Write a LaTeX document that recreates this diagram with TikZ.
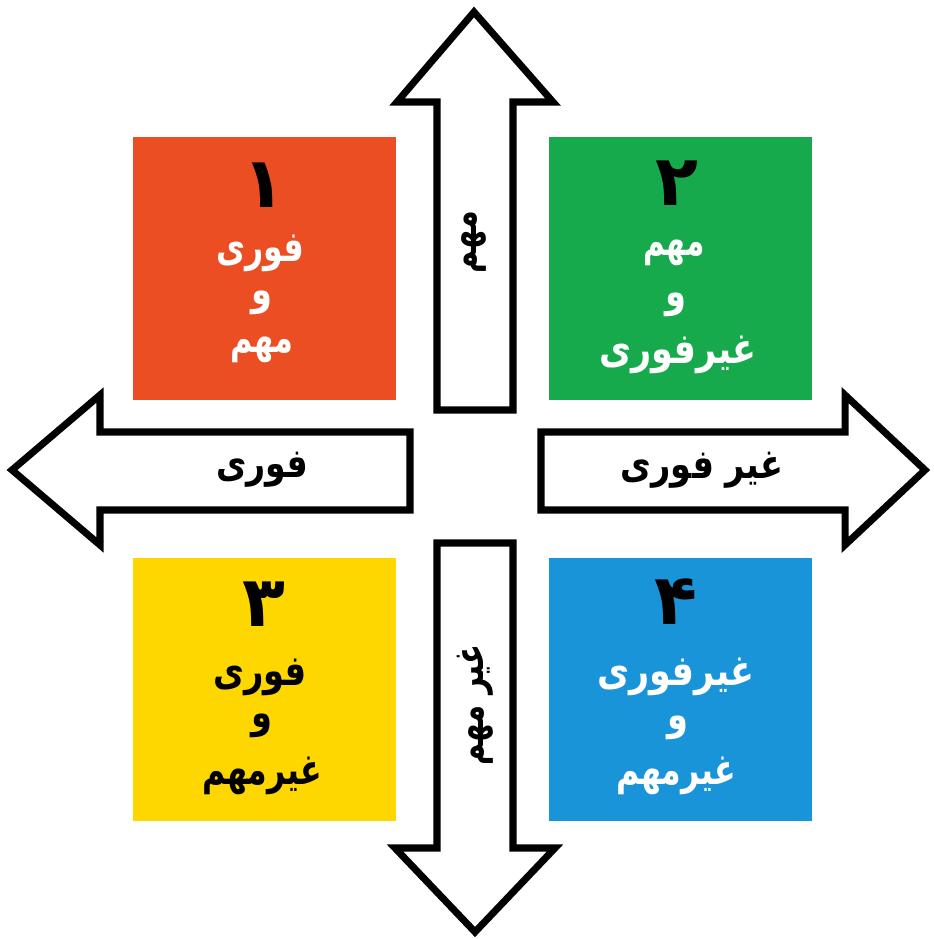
\documentclass[tikz,border=0pt]{standalone}
\usepackage{fontspec}
\newfontfamily\arabicfont[Script=Arabic]{DejaVu Sans}
\TeXXeTstate=1
\definecolor{feldrot}{RGB}{236,78,36}
\definecolor{feldgruen}{RGB}{22,170,76}
\definecolor{feldgelb}{RGB}{254,214,0}
\definecolor{feldblau}{RGB}{26,148,216}
\newcommand{\schmal}[2]{\scalebox{#1}[1]{#2}}
\tikzset{
  feld/.style={minimum width=263*0.02cm, minimum height=263*0.02cm, inner sep=0pt},
  pfeil/.style={draw=black, line width=4pt, fill=white, line join=miter},
  zahl/.style={font=\arabicfont\bfseries\fontsize{40}{40}\selectfont, text=black},
  wort/.style={font=\arabicfont\bfseries\fontsize{24}{24}\selectfont},
  achse/.style={font=\arabicfont\bfseries\fontsize{23}{23}\selectfont, text=black}
}
\begin{document}
\begin{tikzpicture}[x=0.02cm, y=-0.02cm]
    \useasboundingbox (0,0) rectangle (933,939);

    % Felder
    \node (feld1) [feld, fill=feldrot] at (264.5,268.5) {};
    \node (feld2) [feld, fill=feldgruen] at (680,268.5) {};
    \node (feld3) [feld, fill=feldgelb] at (264.5,689) {};
    \node (feld4) [feld, fill=feldblau] at (680,689) {};

    % Pfeile
    \draw[pfeil] (474,12) -- (553,102) -- (513,102) -- (513,410) -- (437,410) -- (437,102) -- (397,102) -- cycle;
    \draw[pfeil] (437,543) -- (513,543) -- (513,848) -- (555,848) -- (475,932) -- (395,848) -- (437,848) -- cycle;
    \draw[pfeil] (12,470) -- (100,395) -- (100,432) -- (410,432) -- (410,510) -- (100,510) -- (100,545) -- cycle;
    \draw[pfeil] (541,432) -- (845,432) -- (845,395) -- (925,470) -- (845,545) -- (845,510) -- (541,510) -- cycle;

    % Achsen
    \node (wichtig) [achse, rotate=90] at (474,242) {\schmal{0.75}{\beginR مهم\endR}};
    \node (unwichtig) [achse, rotate=90] at (475,705) {\schmal{0.72}{\beginR غیر مهم\endR}};
    \node (dringend) [achse] at (262,470) {\schmal{0.82}{\beginR فوری\endR}};
    \node (nichtdringend) [achse] at (702,470) {\schmal{0.83}{\beginR غیر فوری\endR}};

    % Feld 1
    \node (nr1) [zahl] at (264,185) {۱};
    \node (t1a) [wort, text=white] at (260,253) {\schmal{0.75}{\beginR فوری\endR}};
    \node (t1b) [wort, text=white] at (262,303) {\schmal{0.8}{\beginR و\endR}};
    \node (t1c) [wort, text=white] at (262,350) {\schmal{0.72}{\beginR مهم\endR}};

    % Feld 2
    \node (nr2) [zahl] at (677,183) {۲};
    \node (t2a) [wort, text=white] at (674,253) {\schmal{0.7}{\beginR مهم\endR}};
    \node (t2b) [wort, text=white] at (676,305) {\schmal{0.8}{\beginR و\endR}};
    \node (t2c) [wort, text=white] at (678,355) {\schmal{0.83}{\beginR غیرفوری\endR}};

    % Feld 3
    \node (nr3) [zahl] at (264,604) {۳};
    \node (t3a) [wort, text=black] at (260,677) {\schmal{0.8}{\beginR فوری\endR}};
    \node (t3b) [wort, text=black] at (262,726) {\schmal{0.8}{\beginR و\endR}};
    \node (t3c) [wort, text=black] at (262,776) {\schmal{0.75}{\beginR غیرمهم\endR}};

    % Feld 4
    \node (nr4) [zahl] at (676,602) {۴};
    \node (t4a) [wort, text=white] at (676,677) {\schmal{0.83}{\beginR غیرفوری\endR}};
    \node (t4b) [wort, text=white] at (678,728) {\schmal{0.8}{\beginR و\endR}};
    \node (t4c) [wort, text=white] at (676,776) {\schmal{0.75}{\beginR غیرمهم\endR}};
\end{tikzpicture}
\end{document}
